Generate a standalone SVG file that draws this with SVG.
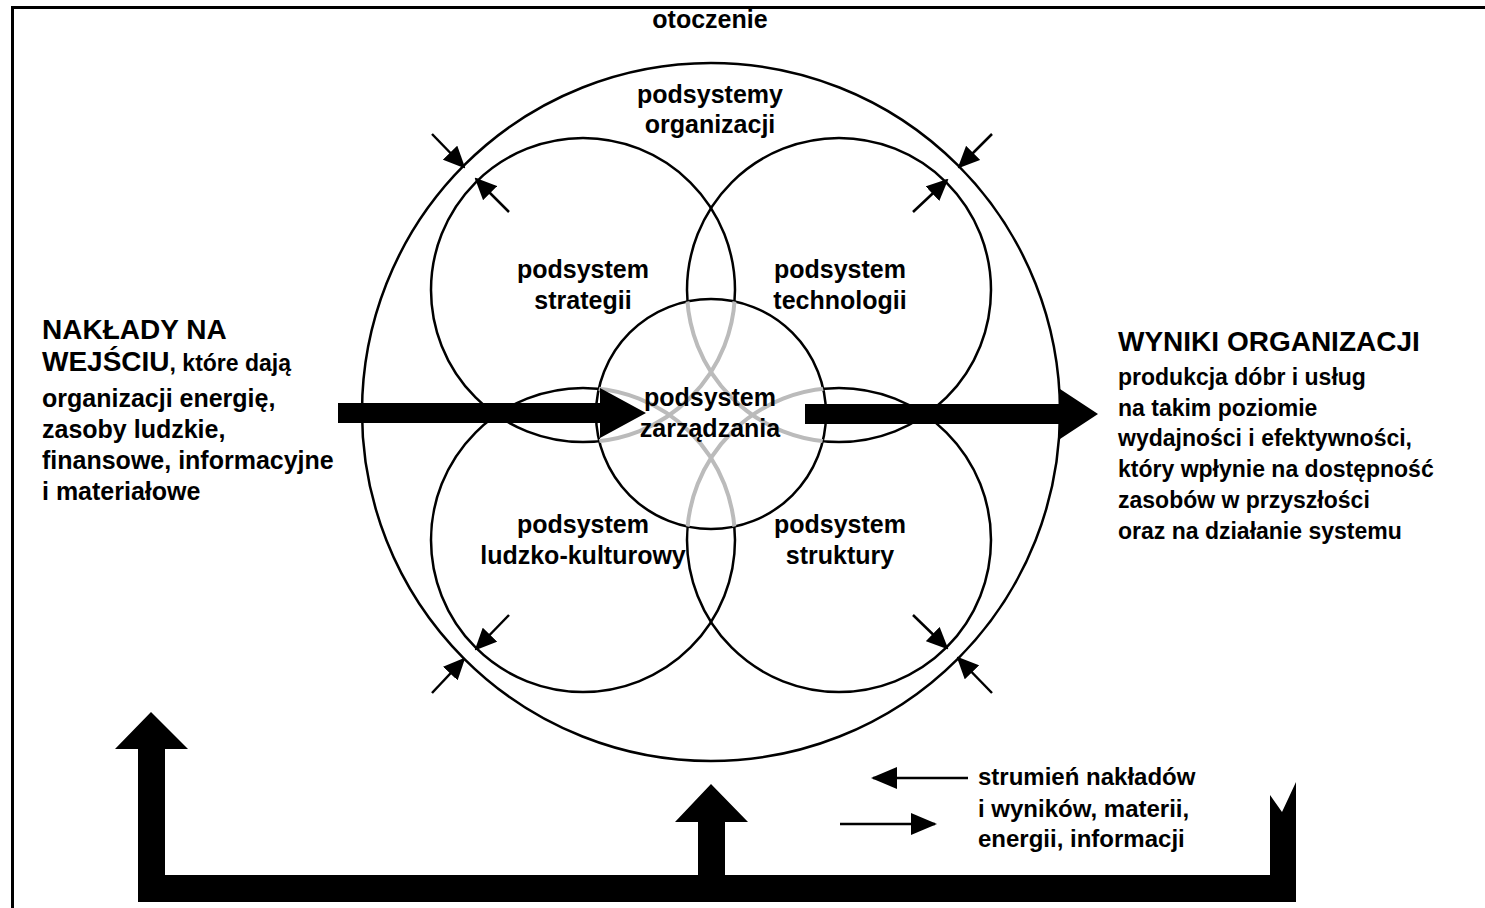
<svg xmlns="http://www.w3.org/2000/svg" width="1485" height="908" viewBox="0 0 1485 908">
<style>
.t{font-family:"Liberation Sans",Arial,sans-serif;font-weight:bold;fill:#000}
.n{font-size:25px;text-anchor:middle}
.b{font-size:23px}
.l{font-size:25px}
.k{font-size:24px}
.h{font-size:28px}
.c{fill:none;stroke:#000;stroke-width:2.5}
.g{fill:none;stroke:#bbb;stroke-width:4}
.sa{fill:none;stroke:#000;stroke-width:2.5;marker-end:url(#ah)}
</style>
<defs>
<marker id="ah" markerUnits="userSpaceOnUse" markerWidth="22" markerHeight="20" refX="20" refY="10" orient="auto" viewBox="0 0 22 20">
<path d="M0 0 L22 10 L0 20 Z" fill="#000"/>
</marker>
<marker id="lh" markerUnits="userSpaceOnUse" markerWidth="26" markerHeight="22" refX="24" refY="11" orient="auto" viewBox="0 0 26 22">
<path d="M0 0 L26 11 L0 22 Z" fill="#000"/>
</marker>
<clipPath id="cc"><circle cx="711" cy="414" r="115"/></clipPath>
</defs>
<rect width="1485" height="908" fill="#fff"/>
<path d="M12.5 908 L12.5 7.5 L1485 7.5" fill="none" stroke="#000" stroke-width="3"/>

<g id="otoczenie">
<circle class="c" cx="711" cy="412" r="349"/>
<text class="t n" x="710" y="28">otoczenie</text>
<text class="t n" x="710" y="103">podsystemy</text>
<text class="t n" x="710" y="133">organizacji</text>
</g>
<g id="strategii">
<circle class="c" cx="583" cy="290" r="152"/>
<text class="t n" x="583" y="278">podsystem</text>
<text class="t n" x="583" y="309">strategii</text>
</g>
<g id="technologii">
<circle class="c" cx="839" cy="290" r="152"/>
<text class="t n" x="840" y="278">podsystem</text>
<text class="t n" x="840" y="309">technologii</text>
</g>
<g id="ludzko">
<circle class="c" cx="583" cy="540" r="152"/>
<text class="t n" x="583" y="533">podsystem</text>
<text class="t n" x="583" y="564">ludzko-kulturowy</text>
</g>
<g id="struktury">
<circle class="c" cx="839" cy="540" r="152"/>
<text class="t n" x="840" y="533">podsystem</text>
<text class="t n" x="840" y="564">struktury</text>
</g>
<g id="zarzadzania">
<circle cx="711" cy="414" r="115" fill="#fff" stroke="#000" stroke-width="2.5"/>
<g clip-path="url(#cc)">
<circle class="g" cx="583" cy="290" r="152"/>
<circle class="g" cx="839" cy="290" r="152"/>
<circle class="g" cx="583" cy="540" r="152"/>
<circle class="g" cx="839" cy="540" r="152"/>
</g>
</g>

<g id="connectors">
<path d="M338 403 L600 403 L600 388 L646 413 L600 438 L600 423 L338 423 Z" fill="#000"/>
<path d="M805 404 L1060 404 L1060 389 L1098 414 L1060 439 L1060 424 L805 424 Z" fill="#000"/>
<path d="M138 902 L138 749 L115 749 L151 712 L188 749 L165 749 L165 875 L698 875 L698 822 L675 822 L711 784 L748 822 L725 822 L725 875 L1270 875 L1270 795 L1282 812 L1296 782 L1296 902 Z" fill="#000"/>
<line class="sa" x1="432" y1="134" x2="464" y2="167"/>
<line class="sa" x1="509" y1="212" x2="476" y2="179"/>
<line class="sa" x1="992" y1="134" x2="959" y2="167"/>
<line class="sa" x1="913" y1="212" x2="947" y2="180"/>
<line class="sa" x1="432" y1="693" x2="464" y2="659"/>
<line class="sa" x1="509" y1="615" x2="476" y2="649"/>
<line class="sa" x1="913" y1="615" x2="947" y2="648"/>
<line class="sa" x1="992" y1="693" x2="958" y2="658"/>
<line x1="968" y1="778" x2="873" y2="778" stroke="#000" stroke-width="2.5" marker-end="url(#lh)"/>
<line x1="840" y1="824" x2="935" y2="824" stroke="#000" stroke-width="2.5" marker-end="url(#lh)"/>
</g>

<g id="center-label">
<text class="t n" x="710" y="406">podsystem</text>
<text class="t n" x="710" y="437">zarządzania</text>
</g>

<g id="inputs">
<text class="t h" x="42" y="339">NAKŁADY NA</text>
<text class="t" x="42" y="371"><tspan class="h">WEJŚCIU</tspan><tspan class="b">, które dają</tspan></text>
<text class="t l" x="42" y="407">organizacji energię,</text>
<text class="t l" x="42" y="438">zasoby ludzkie,</text>
<text class="t l" x="42" y="469">finansowe, informacyjne</text>
<text class="t l" x="42" y="500">i materiałowe</text>
</g>
<g id="outputs">
<text class="t h" x="1118" y="351">WYNIKI ORGANIZACJI</text>
<text class="t b" x="1118" y="385">produkcja dóbr i usług</text>
<text class="t b" x="1118" y="416">na takim poziomie</text>
<text class="t b" x="1118" y="446">wydajności i efektywności,</text>
<text class="t b" x="1118" y="477">który wpłynie na dostępność</text>
<text class="t b" x="1118" y="508">zasobów w przyszłości</text>
<text class="t b" x="1118" y="539">oraz na działanie systemu</text>
</g>
<g id="legend">
<text class="t k" x="978" y="785">strumień nakładów</text>
<text class="t k" x="978" y="817">i wyników, materii,</text>
<text class="t k" x="978" y="847">energii, informacji</text>
</g>
</svg>
